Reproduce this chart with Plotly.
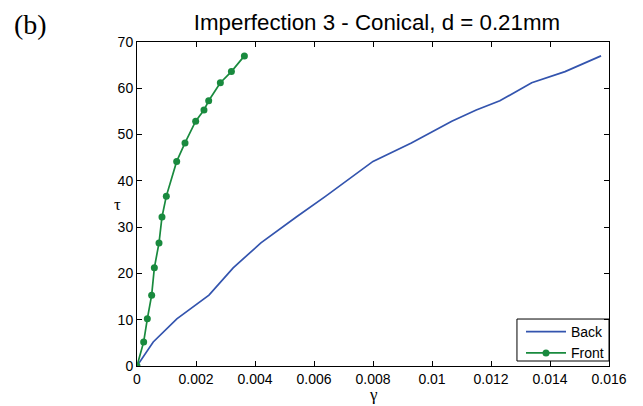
import plotly.graph_objects as go

tau = [0, 5.2, 10.2, 15.3, 21.2, 26.6, 32.2, 36.7, 44.2, 48.2, 52.9, 55.3, 57.3, 61.2, 63.6, 67.0]
gamma_back = [0, 0.00055, 0.00135, 0.00244, 0.00326, 0.0042, 0.0054, 0.0064, 0.0080,
              0.0093, 0.01067, 0.0115, 0.0123, 0.01338, 0.01451, 0.01573]
gamma_front = [0, 0.000226, 0.00035, 0.000497, 0.000588, 0.000746, 0.000847, 0.000994,
               0.001345, 0.001627, 0.001989, 0.00227, 0.00243, 0.002825, 0.0032, 0.00364]

x_ticks = [0, 0.002, 0.004, 0.006, 0.008, 0.01, 0.012, 0.014, 0.016]
x_labels = ["0", "0.002", "0.004", "0.006", "0.008", "0.01", "0.012", "0.014", "0.016"]
y_ticks = [0, 10, 20, 30, 40, 50, 60, 70]

BLUE = "#3354AE"
GREEN = "#198A3E"
SANS = "Liberation Sans, Arial"
SERIF = "Liberation Serif, Times New Roman"

fig = go.Figure()
fig.add_trace(go.Scatter(x=gamma_back, y=tau, mode="lines", name="Back",
                         line=dict(color=BLUE, width=1.7)))
fig.add_trace(go.Scatter(x=gamma_front, y=tau, mode="lines+markers", name="Front",
                         line=dict(color=GREEN, width=1.7),
                         marker=dict(color=GREEN, size=7)))

axis_common = dict(showgrid=False, zeroline=False, showline=True, linecolor="black",
                   linewidth=1, mirror="ticks", ticks="inside", ticklen=5,
                   tickcolor="black", automargin=False,
                   tickfont=dict(family=SANS, size=14, color="black"))

fig.update_layout(
    width=635, height=398,
    margin=dict(l=129, r=34, t=34, b=40, autoexpand=False),
    paper_bgcolor="white", plot_bgcolor="white",
    title=dict(text="Imperfection 3 - Conical, d = 0.21mm", x=0.581, xanchor="center",
               y=0.965, yanchor="middle", automargin=False,
               font=dict(family=SANS, size=22.3, color="black")),
    xaxis=dict(range=[0, 0.016], tickvals=x_ticks, ticktext=x_labels, **axis_common),
    yaxis=dict(range=[0, 70], tickvals=y_ticks, **axis_common),
    legend=dict(x=1, y=0.154, xanchor="right", yanchor="top",
                bgcolor="rgba(0,0,0,0)", borderwidth=0,
                font=dict(family=SANS, size=14, color="black"),
                tracegroupgap=0, itemwidth=40),
    showlegend=True,
)

# legend frame (tighter than plotly's default padding)
fig.add_shape(type="rect", xref="paper", yref="paper", x0=0.805, x1=1.0,
              y0=0.0154, y1=0.145, line=dict(color="black", width=1),
              fillcolor="rgba(0,0,0,0)", layer="above")

fig.add_annotation(text="γ", xref="paper", yref="paper", x=0.5, y=-0.0895,
                   xanchor="center", yanchor="middle", showarrow=False,
                   font=dict(family=SERIF, size=17, color="black"))
fig.add_annotation(text="τ", xref="paper", yref="paper", x=-0.042, y=0.5,
                   xanchor="center", yanchor="middle", showarrow=False,
                   font=dict(family=SERIF, size=17, color="black"))
fig.add_annotation(text="(b)", xref="paper", yref="paper", x=-0.265, y=1.0525,
                   xanchor="left", yanchor="middle", showarrow=False,
                   font=dict(family=SERIF, size=28, color="black"))

fig.write_html("out.html")
